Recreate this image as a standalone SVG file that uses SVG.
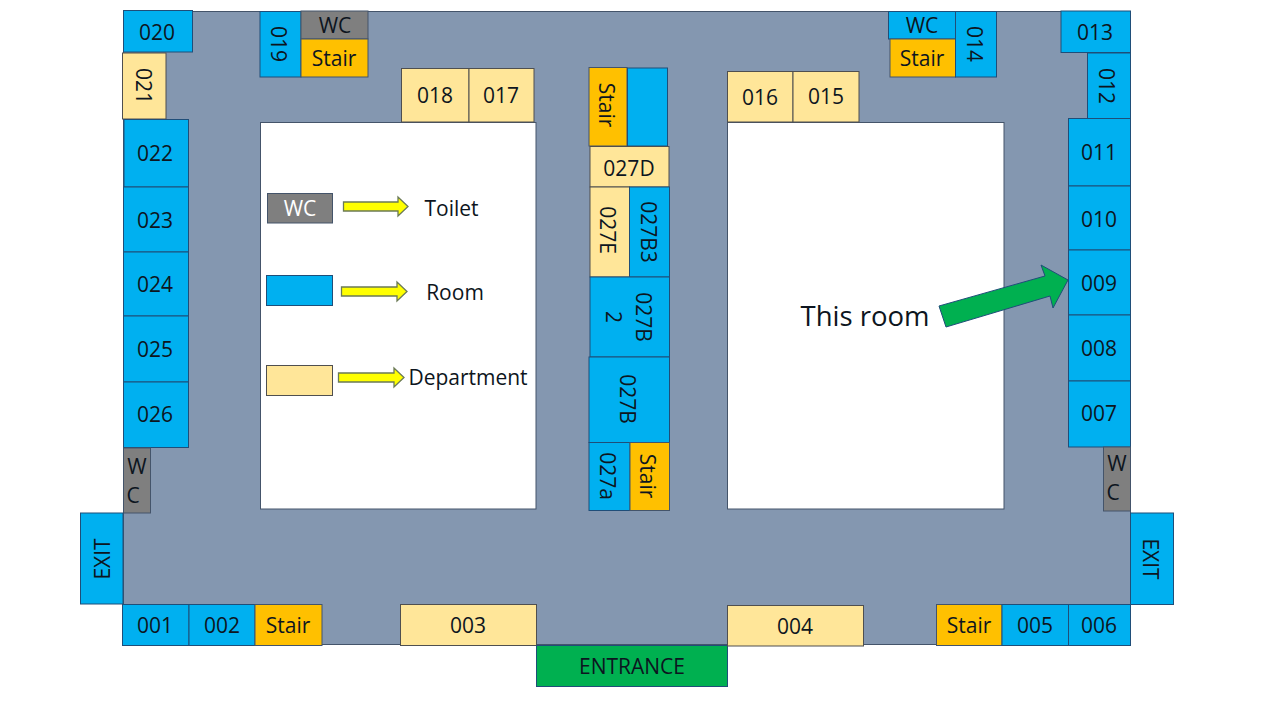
<svg xmlns="http://www.w3.org/2000/svg" width="1280" height="719" viewBox="0 0 1280 719">
<style>
text{font-family:"Open Sans","Noto Sans","Liberation Sans",sans-serif;font-size:21px;fill:#0d1520;text-anchor:middle;dominant-baseline:central}
rect,polygon{stroke-width:1}
.floor{fill:#8497b0;stroke:#44546a}
.white{fill:#fff;stroke:#44546a}
.room{fill:#00b0f0;stroke:#1f4e79}
.dept{fill:#ffe699;stroke:#4f4f4f}
.stair{fill:#ffc000;stroke:#44546a}
.wc{fill:#7f7f7f;stroke:#44546a}
.entr{fill:#00b050;stroke:#1f4e79}
.ya{fill:#ffff00;stroke:#6b7a55;stroke-width:1.3}
.ga{fill:#00b050;stroke:#1f4e79}
.lt{fill:#fff}
.big{font-size:27.500px}
</style>
<g id="floorplan">
<rect class="floor" x="123.500" y="11.500" width="1007" height="633"/>
<rect class="white" x="260.500" y="122.500" width="275.500" height="386.500"/>
<rect class="white" x="727.500" y="122.500" width="276.500" height="386.500"/>
</g>
<g id="left-wing">
<g id="r020"><rect class="room" x="123.500" y="10.500" width="69" height="41.500"/><text x="157" y="31.500">020</text></g>
<g id="r021"><rect class="dept" x="122.500" y="53" width="43.500" height="66"/><text transform="translate(143.500 86) rotate(90)">021</text></g>
<g id="r022"><rect class="room" x="124" y="119.500" width="64.500" height="67.500"/><text x="155" y="153">022</text></g>
<g id="r023"><rect class="room" x="123.500" y="187" width="65" height="65"/><text x="155" y="220">023</text></g>
<g id="r024"><rect class="room" x="123.500" y="252" width="65" height="64"/><text x="155" y="284">024</text></g>
<g id="r025"><rect class="room" x="123.500" y="316" width="65" height="66"/><text x="155" y="349">025</text></g>
<g id="r026"><rect class="room" x="123.500" y="382" width="65" height="65.500"/><text x="155" y="414">026</text></g>
<g id="wc-left"><rect class="wc" x="123.500" y="448" width="27" height="65"/><text x="137" y="466">W</text><text x="133" y="495">C</text></g>
<g id="exit-left"><rect class="room" x="80.500" y="513" width="42.500" height="91"/><text transform="translate(102 559) rotate(-90)">EXIT</text></g>
</g>
<g id="top-left">
<g id="r019"><rect class="room" x="260" y="11.500" width="41" height="65.500"/><text transform="translate(279 44) rotate(90)">019</text></g>
<g id="wc-top-left"><rect class="wc" x="301" y="11" width="67" height="28"/><text x="335" y="25">WC</text></g>
<g id="stair-top-left"><rect class="stair" x="301" y="39" width="67" height="38"/><text x="334" y="58">Stair</text></g>
<g id="r018"><rect class="dept" x="401.500" y="68.500" width="67.500" height="53.500"/><text x="435" y="94.500">018</text></g>
<g id="r017"><rect class="dept" x="469" y="68.500" width="65" height="53.500"/><text x="501" y="94.500">017</text></g>
</g>
<g id="top-right">
<g id="r016"><rect class="dept" x="727.500" y="71.500" width="65.500" height="50.500"/><text x="760" y="96.500">016</text></g>
<g id="r015"><rect class="dept" x="793" y="71.500" width="66" height="50.500"/><text x="826" y="95.500">015</text></g>
<g id="wc-top-right"><rect class="room" x="888.500" y="11.500" width="67" height="27.500"/><text x="922" y="25">WC</text></g>
<g id="stair-top-right"><rect class="stair" x="890" y="39" width="65.500" height="38"/><text x="922" y="58">Stair</text></g>
<g id="r014"><rect class="room" x="955.500" y="11.500" width="41" height="65.500"/><text transform="translate(975 44) rotate(90)">014</text></g>
</g>
<g id="center">
<g id="stair-c1"><rect class="stair" x="589" y="67.500" width="38" height="78.500"/><text transform="translate(607 105) rotate(90)">Stair</text></g>
<g id="room-c-blank"><rect class="room" x="627.500" y="68" width="40" height="78"/></g>
<g id="r027D"><rect class="dept" x="590" y="146.500" width="79" height="40.500"/><text x="629" y="167.500">027D</text></g>
<g id="r027E"><rect class="dept" x="590" y="187" width="39.500" height="90"/><text transform="translate(608 230) rotate(90)">027E</text></g>
<g id="r027B3"><rect class="room" x="629.500" y="187" width="40" height="90"/><text transform="translate(649 232) rotate(90)">027B3</text></g>
<g id="r027B2"><rect class="room" x="590" y="277" width="79.500" height="80"/><text transform="translate(644 317) rotate(90)">027B</text><text transform="translate(614 317) rotate(90)">2</text></g>
<g id="r027B"><rect class="room" x="589" y="357" width="80.500" height="85.500"/><text transform="translate(628 399) rotate(90)">027B</text></g>
<g id="r027a"><rect class="room" x="589" y="442.500" width="41" height="68"/><text transform="translate(608 476) rotate(90)">027a</text></g>
<g id="stair-c2"><rect class="stair" x="630" y="442.500" width="39.500" height="68"/><text transform="translate(648 476) rotate(90)">Stair</text></g>
</g>
<g id="right-wing">
<g id="r013"><rect class="room" x="1061" y="11" width="69.500" height="41.500"/><text x="1095" y="31.500">013</text></g>
<g id="r012"><rect class="room" x="1087.500" y="53" width="43" height="66"/><text transform="translate(1107 86) rotate(90)">012</text></g>
<g id="r011"><rect class="room" x="1068.500" y="118.500" width="62" height="67.500"/><text x="1099" y="152">011</text></g>
<g id="r010"><rect class="room" x="1068.500" y="186" width="62" height="64"/><text x="1099" y="219">010</text></g>
<g id="r009"><rect class="room" x="1068.500" y="250" width="62" height="65"/><text x="1099" y="283">009</text></g>
<g id="r008"><rect class="room" x="1068.500" y="315" width="62" height="66"/><text x="1099" y="348">008</text></g>
<g id="r007"><rect class="room" x="1068.500" y="381" width="62" height="66"/><text x="1099" y="413">007</text></g>
<g id="wc-right"><rect class="wc" x="1103.500" y="447" width="27" height="64"/><text x="1117" y="463">W</text><text x="1113" y="492">C</text></g>
<g id="exit-right"><rect class="room" x="1130.500" y="513" width="43" height="91.500"/><text transform="translate(1151 559) rotate(90)">EXIT</text></g>
</g>
<g id="bottom">
<g id="r001"><rect class="room" x="122.500" y="604.500" width="66.500" height="41"/><text x="155" y="625">001</text></g>
<g id="r002"><rect class="room" x="189" y="604.500" width="66" height="41"/><text x="222" y="625">002</text></g>
<g id="stair-b1"><rect class="stair" x="255" y="604.500" width="67" height="41"/><text x="288" y="625">Stair</text></g>
<g id="r003"><rect class="dept" x="400.500" y="604.500" width="136" height="41"/><text x="468" y="625">003</text></g>
<g id="entrance"><rect class="entr" x="536.500" y="645.500" width="191" height="41"/><text x="632" y="666">ENTRANCE</text></g>
<g id="r004"><rect class="dept" x="727.500" y="605.500" width="136" height="40.500"/><text x="795" y="626">004</text></g>
<g id="stair-b2"><rect class="stair" x="936.500" y="604.500" width="65.500" height="41"/><text x="969" y="625">Stair</text></g>
<g id="r005"><rect class="room" x="1002" y="604.500" width="66.500" height="41"/><text x="1035" y="625">005</text></g>
<g id="r006"><rect class="room" x="1068.500" y="604.500" width="62" height="41"/><text x="1099" y="625">006</text></g>
</g>
<g id="legend">
<g id="legend-wc"><rect class="wc" x="267.500" y="193.500" width="65" height="29.500"/><text class="lt" x="300" y="208">WC</text></g>
<g id="legend-room"><rect class="room" x="266.500" y="275.500" width="66" height="30"/></g>
<g id="legend-dept"><rect class="dept" x="266.500" y="365.500" width="66" height="30"/></g>
<text x="451.500" y="207.500">Toilet</text>
<text x="455" y="291.500">Room</text>
<text x="468" y="376.500">Department</text>
</g>
<g id="connectors">
<polygon class="ya" points="343.500,202 398,202 398,197 408,206.500 398,216 398,211 343.500,211"/>
<polygon class="ya" points="341.500,287 397,287 397,282 407,291.500 397,301 397,296 341.500,296"/>
<polygon class="ya" points="338.500,373 394,373 394,368 404,377.500 394,387 394,382 338.500,382"/>
<polygon class="ga" points="939,306 1045,276 1041,265 1068,280 1053,308 1050,296 946,327"/>
</g>
<text class="big" x="865" y="315.500">This room</text>
</svg>
